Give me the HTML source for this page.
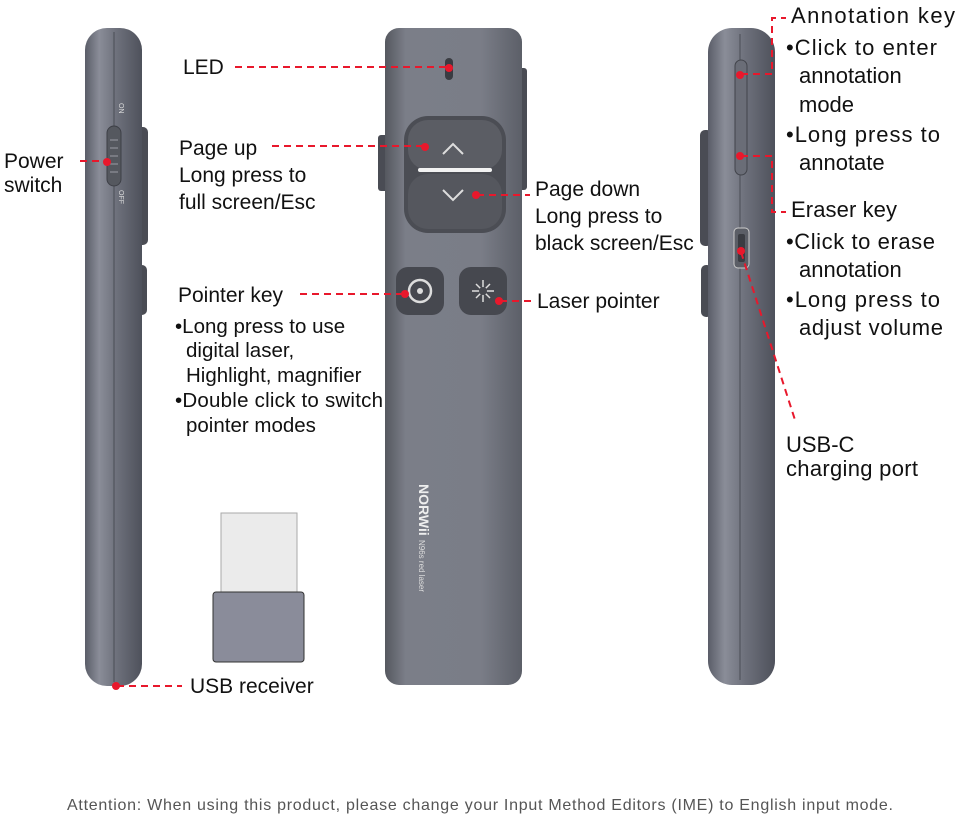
<!DOCTYPE html>
<html><head><style>
body{margin:0;background:#fff;}
svg{display:block}
text{font-family:"Liberation Sans",sans-serif;fill:#111;}
.l{font-size:21px}
.d{stroke:#e8182c;stroke-width:2;stroke-dasharray:7 5;fill:none}
.dot{fill:#e8182c}
</style></head><body>
<svg width="960" height="820" viewBox="0 0 960 820">
<defs>
<linearGradient id="g" x1="0" x2="1">
<stop offset="0" stop-color="#5a5d68"/><stop offset="0.25" stop-color="#8a8d98"/><stop offset="0.55" stop-color="#6e717c"/><stop offset="1" stop-color="#4e515b"/>
</linearGradient>
<linearGradient id="g2" x1="0" x2="1">
<stop offset="0" stop-color="#55585f"/><stop offset="0.15" stop-color="#7b7e88"/><stop offset="0.7" stop-color="#7a7d87"/><stop offset="1" stop-color="#5c5f68"/>
</linearGradient>
</defs>
<rect x="137" y="127" width="11" height="118" rx="5" fill="#4a4c54"/>
<rect x="137" y="265" width="10" height="50" rx="5" fill="#4a4c54"/>
<rect x="85" y="28" width="57" height="658" rx="22" fill="url(#g)"/>
<line x1="114" y1="32" x2="114" y2="682" stroke="#4a4d55" stroke-width="1"/>
<rect x="107" y="126" width="14" height="60" rx="7" fill="#55585f" stroke="#3d3f46"/>
<g stroke="#9a9ca4"><line x1="110" y1="140" x2="118" y2="140"/><line x1="110" y1="148" x2="118" y2="148"/><line x1="110" y1="156" x2="118" y2="156"/><line x1="110" y1="164" x2="118" y2="164"/><line x1="110" y1="172" x2="118" y2="172"/></g>
<text font-size="7" style="fill:#ddd" transform="translate(119,103) rotate(90)">ON</text>
<text font-size="7" style="fill:#ddd" transform="translate(119,190) rotate(90)">OFF</text>
<rect x="378" y="135" width="10" height="56" rx="3" fill="#4a4c54"/>
<rect x="517" y="68" width="10" height="122" rx="3" fill="#4a4c54"/>
<rect x="385" y="28" width="137" height="657" rx="14" fill="url(#g2)"/>
<rect x="445" y="58" width="8" height="22" rx="4" fill="#3a3c42"/>
<rect x="404" y="116" width="102" height="117" rx="24" fill="#4b4d54"/>
<rect x="408" y="120" width="94" height="50" rx="20" fill="#5b5d64"/>
<rect x="408" y="174" width="94" height="55" rx="20" fill="#55575e"/>
<rect x="418" y="168" width="74" height="4" rx="2" fill="#f2f2f2"/>
<polyline points="443,154 453,144 463,154" stroke="#ddd" stroke-width="2" fill="none"/>
<polyline points="443,190 453,200 463,190" stroke="#ddd" stroke-width="2" fill="none"/>
<rect x="396" y="267" width="48" height="48" rx="12" fill="#46484f"/>
<circle cx="420" cy="291" r="11" stroke="#ddd" stroke-width="2.5" fill="none"/><circle cx="420" cy="291" r="3" fill="#ddd"/>
<rect x="459" y="267" width="48" height="48" rx="12" fill="#46484f"/>
<g stroke="#ddd" stroke-width="1.5"><line x1="483" y1="280" x2="483" y2="302"/><line x1="472" y1="291" x2="494" y2="291"/><line x1="476" y1="284" x2="490" y2="298"/><line x1="490" y1="284" x2="476" y2="298"/></g>
<circle cx="483" cy="291" r="4" fill="#46484f"/>
<text transform="translate(419,484) rotate(90)" font-size="14" font-weight="bold" style="fill:#eee">NORWii</text>
<text transform="translate(419,540) rotate(90)" font-size="8" style="fill:#ddd">N96s red laser</text>
<rect x="700" y="130" width="12" height="116" rx="5" fill="#4a4c54"/>
<rect x="701" y="265" width="11" height="52" rx="5" fill="#4a4c54"/>
<rect x="708" y="28" width="67" height="657" rx="24" fill="url(#g)"/>
<line x1="740" y1="34" x2="740" y2="680" stroke="#4a4d55"/>
<rect x="735" y="60" width="12" height="115" rx="6" fill="#6a6d77" stroke="#42444b"/>
<rect x="734" y="228" width="15" height="40" rx="4" fill="#5b5e66" stroke="#ccc"/>
<rect x="738" y="234" width="7" height="28" rx="2" fill="#3a3c42"/>
<rect x="221" y="513" width="76" height="80" fill="#ebebeb" stroke="#aaa"/>
<rect x="213" y="592" width="91" height="70" rx="3" fill="#8a8c9a" stroke="#333"/>
<path class="d" d="M235 67 H448"/><circle class="dot" cx="449" cy="68" r="4"/>
<path class="d" d="M272 146 H425"/><circle class="dot" cx="425" cy="147" r="4"/>
<path class="d" d="M477 195 H530"/><circle class="dot" cx="476" cy="195" r="4"/>
<path class="d" d="M300 294 H405"/><circle class="dot" cx="405" cy="294" r="4"/>
<path class="d" d="M500 301 H532"/><circle class="dot" cx="499" cy="301" r="4"/>
<path class="d" d="M80 161 H106"/><circle class="dot" cx="107" cy="162" r="4"/>
<path class="d" d="M117 686 H182"/><circle class="dot" cx="116" cy="686" r="4"/>
<path class="d" d="M741 74 H772 V18 H786"/><circle class="dot" cx="740" cy="75" r="4"/>
<path class="d" d="M741 156 H772 V212 H786"/><circle class="dot" cx="740" cy="156" r="4"/>
<path class="d" d="M741 252 L795 420"/><circle class="dot" cx="741" cy="251" r="4"/>
<g class="l">
<text x="183" y="74">LED</text>
<text x="179" y="155">Page up</text>
<text x="179" y="182">Long press to</text>
<text x="179" y="209">full screen/Esc</text>
<text x="535" y="196">Page down</text>
<text x="535" y="223">Long press to</text>
<text x="535" y="250">black screen/Esc</text>
<text x="178" y="302">Pointer key</text>
<text x="537" y="308">Laser pointer</text>
<text x="4" y="168">Power</text>
<text x="4" y="192">switch</text>
<text x="190" y="693">USB receiver</text>
</g>
<g font-size="22">
<text x="791" y="23" textLength="164">Annotation key</text>
<text x="791" y="217" textLength="106">Eraser key</text>
<text x="786" y="452">USB-C</text>
<text x="786" y="476" textLength="132">charging port</text>
</g>
<g font-size="20.5">
<text x="175" y="333">•Long press to use</text>
<text x="186" y="357">digital laser,</text>
<text x="186" y="382">Highlight, magnifier</text>
<text x="175" y="407" textLength="208">•Double click to switch</text>
<text x="186" y="432">pointer modes</text>
</g>
<g font-size="22">
<text x="786" y="55" textLength="151">•Click to enter</text>
<text x="799" y="83">annotation</text>
<text x="799" y="112">mode</text>
<text x="786" y="142" textLength="154">•Long press to</text>
<text x="799" y="170">annotate</text>
<text x="786" y="249" textLength="149">•Click to erase</text>
<text x="799" y="277">annotation</text>
<text x="786" y="307" textLength="154">•Long press to</text>
<text x="799" y="335" textLength="144">adjust volume</text>
</g>
<text x="67" y="810" font-size="16" textLength="826" style="fill:#555">Attention: When using this product, please change your Input Method Editors (IME) to English input mode.</text>
</svg>
</body></html>
